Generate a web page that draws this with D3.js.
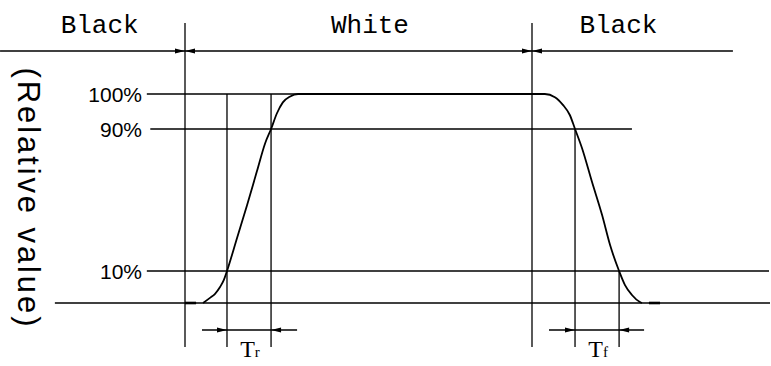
<!DOCTYPE html>
<html>
<head>
<meta charset="utf-8">
<script src="https://cdn.jsdelivr.net/npm/d3@7"></script>
<style>
  body { margin: 0; background: #fff; }
  svg { display: block; }
</style>
</head>
<body>
<div id="container"></div>
<script>
// time axis in arbitrary units: 0 = black->white edge, 100 = white->black edge
var transitions = [0, 100];
var bandLabels = ["Black", "White", "Black"];
var bandLabelT = [-24.6, 53.3, 124.9];

// labelled reference levels (percent of full swing)
var levels = [100, 90, 10];
var levelLabels = ["100%", "90%", "10%"];
var levelFrom = [-11, -10, -11];
var levelTo = [32.6, 128.8, 168.3];

// baseline (0 %) and the top band line
var baseSpan = [-37.5, 168.6];
var bandSpan = [-53.3, 157.9];

// response curve
var riseT = [5.2, 7.2, 8.6, 10.1, 11.2, 12.1, 15.0, 17.9, 20.7, 23.1, 24.8, 26.5, 28.2, 30.3, 32.6];
var riseV = [0, 1.6, 2.8, 5.0, 7.2, 10, 28.6, 47.2, 66.0, 82.0, 90, 94.5, 97.6, 99.3, 100];
var plateau = [32.6, 103.7];
var fallT = [103.7, 106.6, 108.9, 110.9, 112.4, 114.4, 117.3, 120.2, 122.5, 125.1, 126.8, 128.8, 131.1, 131.7];
var fallV = [100, 99.1, 96.9, 94.0, 90, 79.3, 60.1, 41.5, 24.6, 10, 5.6, 2.5, 0.3, 0];
var flatLow = [[0, 3.2], [133.7, 136.9]];

// rise / fall time markers
var riseMarks = [12.1, 24.8];
var fallMarks = [112.4, 125.1];
var fallMarkTop = [90, 10];
var timeNames = [["T", "r"], ["T", "f"]];
var dimSpan = [[4.9, 32.3], [104.9, 132.3]];

var width = 771, height = 366;
var bandY = 51, markTop = 23, markBottom = 347, dimY = 330;

var svg = d3.select("#container").append("svg")
    .attr("width", width)
    .attr("height", height);

var x = d3.scaleLinear().domain([0, 100]).range([185, 532]);
var y = d3.scaleLinear().domain([0, 10, 90, 100]).range([303, 271, 129, 94]);

var ink = "#000";

function hline(x1, x2, yy, w) {
    svg.append("line")
        .attr("x1", x1).attr("x2", x2)
        .attr("y1", yy).attr("y2", yy)
        .attr("stroke", ink).attr("stroke-width", w || 1.3);
}
function vline(xx, y1, y2, w) {
    svg.append("line")
        .attr("x1", xx).attr("x2", xx)
        .attr("y1", y1).attr("y2", y2)
        .attr("stroke", ink).attr("stroke-width", w || 1.3);
}
// small filled arrowhead, tip at (tx, ty), dir = +1 points right, -1 points left
function arrow(tx, ty, dir) {
    var len = 10, hw = 2.6;
    svg.append("path")
        .attr("d", "M" + tx + "," + ty +
            "L" + (tx - dir * len) + "," + (ty - hw) +
            "L" + (tx - dir * len) + "," + (ty + hw) + "Z")
        .attr("fill", ink);
}

// top band line with the black/white labels
hline(x(bandSpan[0]), x(bandSpan[1]), bandY);
svg.selectAll("text.band")
    .data(bandLabels)
    .enter().append("text")
    .attr("class", "band")
    .attr("x", function(d, i) { return x(bandLabelT[i]); })
    .attr("y", 33)
    .attr("text-anchor", "middle")
    .attr("font-family", "Liberation Mono, monospace")
    .attr("font-size", 26)
    .attr("fill", ink)
    .text(function(d) { return d; });

// transition edges
transitions.forEach(function(t) {
    vline(x(t), markTop, markBottom);
    arrow(x(t), bandY, 1);
    arrow(x(t), bandY, -1);
});

// reference levels
levels.forEach(function(v, i) {
    hline(x(levelFrom[i]), x(levelTo[i]), y(v));
});
hline(x(baseSpan[0]), x(baseSpan[1]), y(0));

svg.selectAll("text.level")
    .data(levelLabels)
    .enter().append("text")
    .attr("class", "level")
    .attr("x", 142)
    .attr("y", function(d, i) { return y(levels[i]); })
    .attr("dy", "0.36em")
    .attr("text-anchor", "end")
    .attr("font-family", "Liberation Sans, Arial, sans-serif")
    .attr("font-size", 21)
    .attr("fill", ink)
    .text(function(d) { return d; });

// rise / fall markers
riseMarks.forEach(function(t) { vline(x(t), y(100), markBottom); });
fallMarks.forEach(function(t, i) { vline(x(t), y(fallMarkTop[i]), markBottom); });

[riseMarks, fallMarks].forEach(function(m, i) {
    hline(x(dimSpan[i][0]), x(dimSpan[i][1]), dimY);
    arrow(x(m[0]), dimY, 1);
    arrow(x(m[1]), dimY, -1);
    var lbl = svg.append("text")
        .attr("x", (x(m[0]) + x(m[1])) / 2 + 1)
        .attr("y", 357)
        .attr("text-anchor", "middle")
        .attr("font-family", "Liberation Serif, serif")
        .attr("fill", ink);
    lbl.append("tspan").attr("font-size", 24).text(timeNames[i][0]);
    lbl.append("tspan").attr("font-size", 15).text(timeNames[i][1]);
});

// response curve
var line = d3.line()
    .x(function(d) { return x(d[0]); })
    .y(function(d) { return y(d[1]); })
    .curve(d3.curveMonotoneX);

var pts = d3.zip(riseT, riseV)
    .concat([[plateau[1], 100]])
    .concat(d3.zip(fallT, fallV).slice(1));

svg.append("path")
    .attr("d", line(pts))
    .attr("fill", "none")
    .attr("stroke", ink)
    .attr("stroke-width", 1.8);

flatLow.forEach(function(s) {
    hline(x(s[0]), x(s[1]), y(0), 2.6);
});

// axis title
svg.append("text")
    .attr("transform", "translate(29,197) rotate(90)")
    .attr("text-anchor", "middle")
    .attr("dy", "0.35em")
    .attr("font-family", "Liberation Sans, Arial, sans-serif")
    .attr("font-size", 31)
    .attr("textLength", 259)
    .attr("lengthAdjust", "spacing")
    .attr("fill", ink)
    .text("(Relative value)");
</script>
</body>
</html>
